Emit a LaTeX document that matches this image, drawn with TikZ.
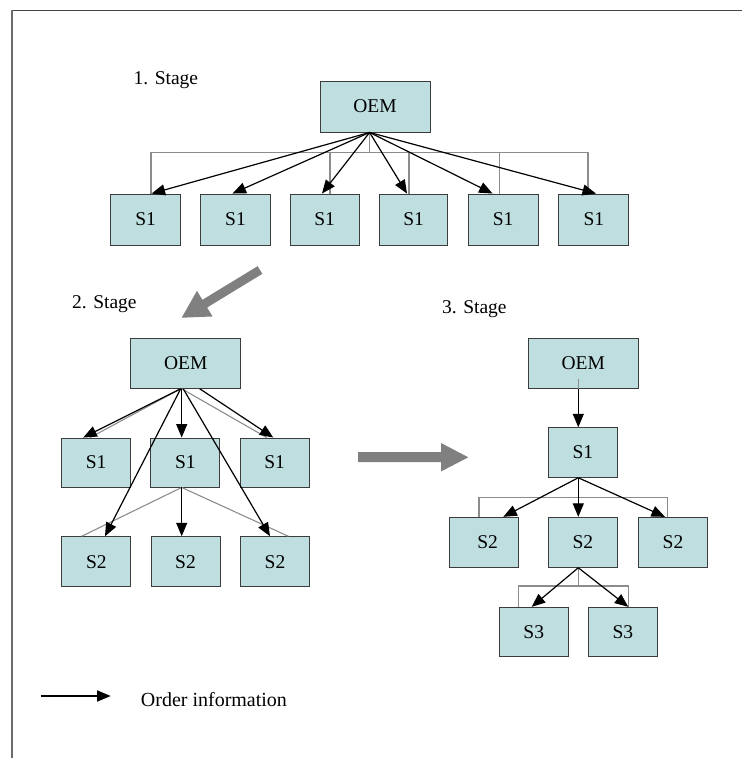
\documentclass[tikz,border=0pt]{standalone}
\usepackage{fontspec}
\setmainfont{Liberation Serif}
\usetikzlibrary{arrows.meta}
\definecolor{boxfill}{RGB}{190,222,224}
\definecolor{boxline}{RGB}{60,60,60}
\definecolor{busgray}{RGB}{140,140,140}
\definecolor{biggray}{RGB}{128,128,128}
\definecolor{framegray}{RGB}{70,70,70}
\begin{document}
\begin{tikzpicture}[x=1pt,y=-1pt,
 sbox/.style={draw=boxline, line width=0.9pt, fill=boxfill, minimum width=69pt, minimum height=50pt, inner sep=0pt, font=\fontsize{19.5}{22}\selectfont},
 obox/.style={sbox, minimum width=110pt},
 order/.style={line width=1.2pt, -{Triangle[length=13.5pt,width=11pt]}},
 bus/.style={busgray, line width=1.1pt},
 lbl/.style={anchor=base west, inner sep=0pt, font=\fontsize{19.5}{22}\selectfont},
 bigarrow/.style={fill=biggray}
]
\useasboundingbox (0,0) rectangle (742,758);
% frame
\coordinate (f1) at (11,10.6);
\coordinate (f2) at (742,10.6);
\coordinate (f3) at (11.7,10);
\coordinate (f4) at (11.7,758);
\draw[framegray, line width=1.3pt] (f1) -- (f2);
\draw[framegray!80, line width=1.8pt] (f3) -- (f4);

% ---------- Stage 1 ----------
\node[lbl] (t1) at (133.5,84.8) {1. Stage};
\node[obox, minimum height=51pt] (oem1) at (375,106.5) {OEM};
\node[sbox, minimum width=70pt, minimum height=51pt] (s11) at (145.6,219.5) {S1};
\node[sbox, minimum width=70pt, minimum height=51pt] (s12) at (235.5,219.5) {S1};
\node[sbox, minimum width=69pt, minimum height=51pt] (s13) at (324.7,219.5) {S1};
\node[sbox, minimum width=68pt, minimum height=51pt] (s14) at (413.7,219.5) {S1};
\node[sbox, minimum width=70pt, minimum height=51pt] (s15) at (503.2,219.5) {S1};
\node[sbox, minimum width=70pt, minimum height=51pt] (s16) at (593.8,219.5) {S1};
\coordinate (b1) at (369.6,152.3);
\draw[bus] ([xshift=-5.4pt]oem1.south) -- (b1);
\draw[bus] ([xshift=5.4pt]s11.north) |- (b1) -| ([xshift=-5.8pt]s16.north);
\draw[bus] ([xshift=5.3pt]s13.north) |- (b1);
\draw[bus] ([xshift=-4.7pt]s14.north) |- (b1);
\draw[bus] ([xshift=-3.7pt]s15.north) |- (b1);
\draw[order] ([xshift=-5.4pt]oem1.south) -- ([xshift=6pt]s11.north);
\draw[order] ([xshift=-5.4pt]oem1.south) -- ([xshift=-3pt]s12.north);
\draw[order] ([xshift=-5.4pt]oem1.south) -- ([xshift=-2.7pt]s13.north);
\draw[order] ([xshift=-5.4pt]oem1.south) -- ([xshift=-6.7pt]s14.north);
\draw[order] ([xshift=-5.4pt]oem1.south) -- ([xshift=-10.6pt]s15.north);
\draw[order] ([xshift=-5.4pt]oem1.south) -- ([xshift=2.2pt]s16.north);

% big gray arrow 1
\fill[bigarrow] (262.34,273.84) -- (207.10,307.50) -- (212.56,316.47) -- (181.7,317.7)
  -- (196.96,290.85) -- (202.42,299.82) -- (257.66,266.16) -- cycle;

% ---------- Stage 2 ----------
\node[lbl] (t2) at (72,308) {2. Stage};
\node[obox] (oem2) at (185.7,363.3) {OEM};
\node[sbox, minimum height=49pt] (s21a) at (96.2,462.5) {S1};
\node[sbox, minimum height=49pt] (s21b) at (185.3,462.5) {S1};
\node[sbox, minimum height=49pt] (s21c) at (274.7,462.5) {S1};
\node[sbox] (s22a) at (96.3,561.7) {S2};
\node[sbox] (s22b) at (185.5,561.7) {S2};
\node[sbox] (s22c) at (275,561.7) {S2};
\draw[bus] ([xshift=-5pt]oem2.south) -- ([xshift=-6pt]s21a.north);
\draw[bus] ([xshift=-4pt]oem2.south) -- ([xshift=-8pt]s21c.north);
\draw[bus] ([xshift=-3.6pt]s21b.south) -- ([xshift=-14.6pt]s22a.north);
\draw[bus] ([xshift=-3.6pt]s21b.south) -- ([xshift=13.3pt]s22c.north);
\draw[order] ([xshift=-5pt]oem2.south) -- ([xshift=-13pt]s21a.north);
\draw[order] ([xshift=-4pt]oem2.south) -- ([xshift=-3.6pt]s21b.north);
\draw[order] ([xshift=14pt]oem2.south) -- ([xshift=-1.4pt]s21c.north);
\draw[order] ([xshift=-5pt]oem2.south) -- ([xshift=8.7pt]s22a.north);
\draw[order] ([xshift=-2.5pt]oem2.south) -- ([xshift=-5pt]s22c.north);
\draw[order] ([xshift=-3.6pt]s21b.south) -- ([xshift=-3.8pt]s22b.north);

% big gray arrow 2
\fill[bigarrow] (358,452) -- (441,452) -- (441,443) -- (468.3,457.3) -- (441,471.5)
  -- (441,462) -- (358,462) -- cycle;

% ---------- Stage 3 ----------
\node[lbl] (t3) at (442,313.3) {3. Stage};
\node[obox] (oem3) at (583.3,363.3) {OEM};
\node[sbox, minimum height=49.6pt] (s31) at (582.8,452.5) {S1};
\node[sbox, minimum width=69.3pt] (s32a) at (483.7,542.3) {\hspace*{8pt}S2};
\node[sbox] (s32b) at (582.8,542.3) {S2};
\node[sbox, minimum width=69.4pt] (s32c) at (673,542.3) {S2};
\node[sbox, minimum height=49.4pt] (s33a) at (533.7,632) {S3};
\node[sbox, minimum height=49.4pt] (s33b) at (622.8,632) {S3};
\draw[bus] ([xshift=-5pt,yshift=10pt]oem3.south) -- ([xshift=-5pt]oem3.south);
\coordinate (b3) at (578.3,497.7);
\coordinate (b4) at (578.3,586);
\draw[bus] ([xshift=-4.5pt]s31.south) -- (b3);
\draw[bus] ([xshift=-4.7pt]s32a.north) |- (b3) -| ([xshift=-5.3pt]s32c.north);
\draw[bus] ([xshift=-4.5pt]s32b.south) -- (b4);
\draw[bus] ([xshift=-15.4pt]s33a.north) |- (b4) -| ([xshift=5.5pt]s33b.north);
\draw[order] ([xshift=-5pt]oem3.south) -- ([xshift=-4.5pt]s31.north);
\draw[order] ([xshift=-4.5pt]s31.south) -- ([xshift=19.6pt]s32a.north);
\draw[order] ([xshift=-4.5pt]s31.south) -- ([xshift=-4.5pt]s32b.north);
\draw[order] ([xshift=-4.5pt]s31.south) -- ([xshift=-8pt]s32c.north);
\draw[order] ([xshift=-4.5pt]s32b.south) -- ([xshift=-2pt]s33a.north);
\draw[order] ([xshift=-4.5pt]s32b.south) -- ([xshift=5.5pt]s33b.north);

% ---------- Legend ----------
\coordinate (la) at (40.7,696);
\coordinate (lb) at (110.7,696);
\draw[order] (la) -- (lb);
\node[lbl, font=\fontsize{20}{24}\selectfont] (legtxt) at (140.7,706.3) {Order information};
\end{tikzpicture}
\end{document}
